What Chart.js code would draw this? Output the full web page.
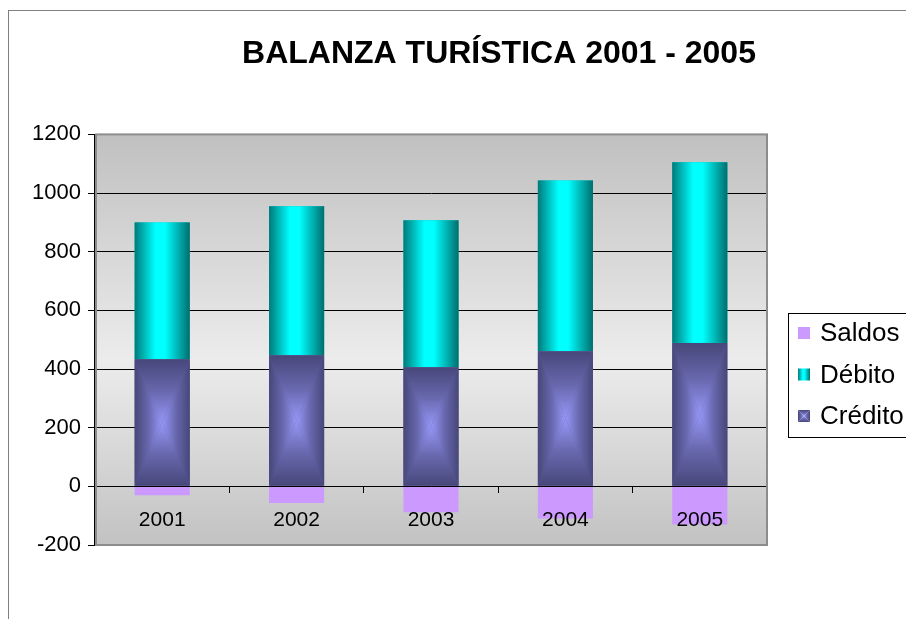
<!DOCTYPE html>
<html lang="es">
<head>
  <meta charset="utf-8">
  <title>Balanza turística 2001 - 2005</title>
  <script src="https://cdn.jsdelivr.net/npm/chart.js@4/dist/chart.umd.min.js"></script>
  <style>
    body { margin:0; background:#fff; overflow:hidden; }
    #wrap { width:906px; height:619px; }
  </style>
</head>
<body>
  <div id="wrap"><canvas id="chart" width="906" height="619"></canvas></div>
  <script>
    // data
    const years = ['2001', '2002', '2003', '2004', '2005'];
    const credito = [433, 447, 406, 461, 489];
    const debito = [467, 508, 501, 582, 616];
    const saldos = [-30, -57, -88, -110, -130];
    const yTicks = [-200, 0, 200, 400, 600, 800, 1000, 1200];

    const FONT = 'Arial, "Liberation Sans", sans-serif';
    const SALDO_COL = '#cc99ff';

    function tealGrad(ctx, l, r) {
      const g = ctx.createLinearGradient(l, 0, r, 0);
      g.addColorStop(0, '#007a7a');
      g.addColorStop(0.38, '#00ffff');
      g.addColorStop(0.55, '#00ffff');
      g.addColorStop(1, '#006e6e');
      return g;
    }
    function purpleStops(g) {
      g.addColorStop(0, '#47477a');
      g.addColorStop(0.5, '#6767ad');
      g.addColorStop(1, '#9797f8');
      return g;
    }
    // rectangular "from centre" gradient built from four triangles
    function purpleRect(ctx, l, t, r, b) {
      const cx = (l + r) / 2, cy = (t + b) / 2;
      const tris = [
        [[l, t], [r, t], [cx, cy], [cx, t, cx, cy]],
        [[l, b], [r, b], [cx, cy], [cx, b, cx, cy]],
        [[l, t], [l, b], [cx, cy], [l, cy, cx, cy]],
        [[r, t], [r, b], [cx, cy], [r, cy, cx, cy]]
      ];
      tris.forEach(tr => {
        ctx.beginPath();
        ctx.moveTo(tr[0][0], tr[0][1]);
        ctx.lineTo(tr[1][0], tr[1][1]);
        ctx.lineTo(tr[2][0], tr[2][1]);
        ctx.closePath();
        const gg = tr[3];
        ctx.fillStyle = purpleStops(ctx.createLinearGradient(gg[0], gg[1], gg[2], gg[3]));
        ctx.fill();
      });
    }

    const bgPlugin = {
      id: 'bg',
      afterLayout(chart) {
        // excel centres the title over the whole (cropped) chart object
        chart.titleBlock.left = 8;
        chart.titleBlock.right = 990;
      },
      beforeDraw(chart) {
        const {ctx, chartArea: a} = chart;
        ctx.save();
        ctx.strokeStyle = '#808080';
        ctx.lineWidth = 1;
        ctx.strokeRect(8.5, 10.5, 1200, 1200);
        const g = ctx.createLinearGradient(0, a.top, 0, a.bottom);
        g.addColorStop(0, '#c0c0c0');
        g.addColorStop(0.55, '#ececec');
        g.addColorStop(1, '#c2c2c2');
        ctx.fillStyle = g;
        ctx.fillRect(a.left, a.top, a.right - a.left, a.bottom - a.top);
        ctx.restore();
      },
      afterDatasetDraw(chart, args) {
        const ds = chart.data.datasets[args.index];
        const ctx = chart.ctx;
        if (ds.label !== 'Débito' && ds.label !== 'Crédito') return;
        ctx.save();
        args.meta.data.forEach(bar => {
          const p = bar.getProps(['x', 'y', 'base', 'width'], true);
          const l = p.x - p.width / 2, r = p.x + p.width / 2;
          const t = Math.min(p.y, p.base), b = Math.max(p.y, p.base);
          if (ds.label === 'Débito') {
            ctx.fillStyle = tealGrad(ctx, l, r);
            ctx.fillRect(l, t, r - l, b - t);
          } else {
            purpleRect(ctx, l, t, r, b);
          }
        });
        ctx.restore();
      },
      afterDraw(chart) {
        const {ctx, chartArea: a} = chart;
        ctx.save();
        ctx.strokeStyle = '#8c8c8c';
        ctx.lineWidth = 2;
        ctx.strokeRect(a.left + 1, a.top, a.right - a.left - 1, a.bottom - a.top);
        ctx.beginPath();
        ctx.strokeStyle = '#000';
        ctx.lineWidth = 1;
        ctx.moveTo(a.left - 0.5, a.top);
        ctx.lineTo(a.left - 0.5, a.bottom);
        ctx.stroke();

        // legend box, reversed series order like excel
        const lx = 788, ly = 313, lh = 124;
        ctx.fillStyle = '#fff';
        ctx.fillRect(lx, ly, 200, lh);
        ctx.strokeStyle = '#000';
        ctx.strokeRect(lx + 0.5, ly + 0.5, 200, lh);
        const items = chart.data.datasets.slice().reverse();
        ctx.font = '26px ' + FONT;
        ctx.textBaseline = 'middle';
        items.forEach((ds, i) => {
          const cy = 333 + i * 41.5;
          const sx = 798, s = 12;
          if (ds.label === 'Saldos') {
            ctx.fillStyle = SALDO_COL;
            ctx.fillRect(sx, cy - s / 2, s, s);
          } else if (ds.label === 'Débito') {
            ctx.fillStyle = tealGrad(ctx, sx, sx + s);
            ctx.fillRect(sx, cy - s / 2, s, s);
          } else {
            purpleRect(ctx, sx, cy - s / 2, sx + s, cy + s / 2);
          }
          ctx.fillStyle = '#000';
          ctx.fillText(ds.label, 820, cy + 1);
        });
        ctx.restore();
      }
    };

    new Chart(document.getElementById('chart'), {
      type: 'bar',
      data: {
        labels: years,
        datasets: [
          { label: 'Crédito', data: credito, backgroundColor: '#5b5b98' },
          { label: 'Débito', data: debito, backgroundColor: '#00c0c0' },
          { label: 'Saldos', data: saldos, backgroundColor: SALDO_COL }
        ]
      },
      options: {
        responsive: false,
        animation: false,
        layout: { padding: { left: 0, right: 139, top: 0, bottom: 74 } },
        datasets: { bar: { categoryPercentage: 1, barPercentage: 0.41, borderWidth: 0 } },
        plugins: {
          legend: { display: false },
          tooltip: { enabled: false },
          title: {
            display: true,
            text: 'BALANZA TURÍSTICA 2001 - 2005',
            color: '#000',
            font: { family: FONT, size: 32, weight: 'bold', lineHeight: 1.2 },
            padding: { top: 35, bottom: 61 }
          }
        },
        scales: {
          x: {
            stacked: true,
            position: { y: 0 },
            border: { display: true, color: '#000', width: 1, z: 1 },
            grid: { offset: true, drawOnChartArea: false, drawTicks: true, tickLength: 6, color: '#000', z: 1 },
            ticks: { color: '#000', font: { family: FONT, size: 21 }, padding: 15, z: 1 }
          },
          y: {
            stacked: true,
            min: -200,
            max: 1200,
            afterBuildTicks: s => { s.ticks = yTicks.map(v => ({ value: v })); },
            afterFit: s => { s.width = 95; },
            border: { display: true, color: '#000', width: 1 },
            grid: { color: '#000', lineWidth: 1, tickLength: 7, drawTicks: true },
            ticks: { color: '#000', font: { family: FONT, size: 22 }, padding: 7, callback: v => String(v) }
          }
        }
      },
      plugins: [bgPlugin]
    });
  </script>
</body>
</html>
